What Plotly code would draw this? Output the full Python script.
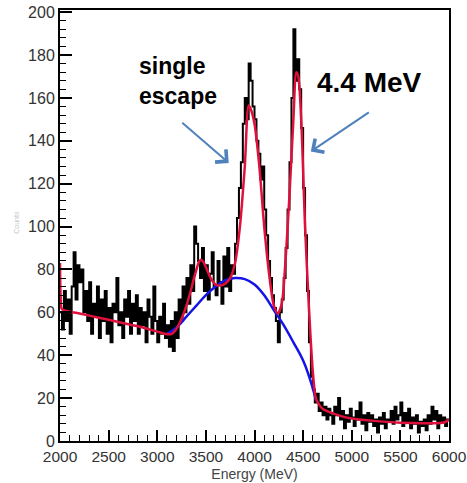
import plotly.graph_objects as go

# ---------------- data ----------------
bin_start = 2000
bin_width = 20
counts = [
    60, 52, 70, 56, 66, 50, 72, 88, 66, 82,        # 2000-2200
    74, 80, 60, 70, 56, 74, 50, 64, 58, 72,        # 2200-2400
    48, 66, 56, 70, 50, 62, 46, 64, 60, 76,        # 2400-2600
    54, 60, 48, 66, 58, 70, 50, 64, 56, 68,        # 2600-2800
    50, 62, 54, 60, 46, 66, 58, 50, 72, 56,        # 2800-3000
    46, 58, 50, 64, 48, 54, 44, 56, 42, 60,        # 3000-3200
    48, 66, 56, 72, 60, 76, 64, 82, 70, 100,       # 3200-3400
    92, 84, 76, 90, 70, 82, 66, 78, 88, 72,        # 3400-3600
    68, 84, 74, 64, 86, 72, 90, 70, 82, 78,        # 3600-3800
    92, 104, 118, 130, 148, 160, 150, 176, 168, 156,  # 3800-4000
    150, 140, 134, 122, 128, 108, 96, 84, 76, 68,  # 4000-4200
    62, 56, 46, 60, 66, 76, 90, 108, 130, 160,     # 4200-4400
    192, 168, 178, 164, 146, 118, 96, 70, 46, 30,  # 4400-4600
    24, 18, 22, 14, 18, 12, 16, 10, 15, 12,        # 4600-4800
    8, 16, 12, 20, 10, 14, 6, 12, 9, 15,           # 4800-5000
    11, 7, 14, 10, 18, 8, 12, 5, 13, 9,            # 5000-5200
    12, 7, 10, 4, 11, 8, 13, 6, 10, 9,             # 5200-5400
    14, 8, 16, 10, 12, 18, 7, 13, 9, 15,           # 5400-5600
    6, 11, 8, 12, 4, 9, 7, 10, 5, 12,              # 5600-5800
    8, 16, 10, 14, 6, 12, 9, 11, 7, 10,            # 5800-6000
]

# total fit (red)
fit_E = [2000, 2008, 2020, 2200, 2400, 2600, 2800, 3000, 3100, 3150, 3200, 3250,
         3300, 3350, 3375, 3400, 3425, 3450, 3475, 3500, 3550, 3600, 3650, 3700,
         3750, 3800, 3850, 3900, 3940, 3960, 4000, 4050, 4100, 4150, 4200, 4240,
         4280, 4320, 4360, 4400, 4430, 4450, 4480, 4520, 4560, 4600, 4630, 4650,
         4700, 4800, 4900, 5000, 5200, 5500, 5800, 5950, 6000]
fit_val = [83, 66, 61.5, 59.5, 57.5, 55.5, 53.5, 51, 49.8, 50, 52.5, 57,
           63, 71, 75.5, 79.5, 83, 84.5, 83.5, 81, 76, 73, 72.5, 73.5,
           76, 83, 100, 128, 156.5, 155, 148, 128, 100, 78, 63, 59.5,
           64, 85, 115, 150, 172, 170, 150, 100, 62, 32, 20, 18,
           15, 13, 11.5, 10.5, 9.5, 8.5, 8.3, 8.6, 10]

# background (blue)
bg_E = [3100, 3200, 3300, 3400, 3500, 3600, 3700, 3800, 3900, 4000, 4100, 4200,
        4300, 4400, 4500, 4600, 4630]
bg_val = [50, 53, 58, 63, 68, 72, 75, 76, 75.5, 73, 68, 61,
          54, 46, 37.5, 24.5, 19]

x_tick_vals = [2000, 2500, 3000, 3500, 4000, 4500, 5000, 5500, 6000]
y_tick_vals = [0, 20, 40, 60, 80, 100, 120, 140, 160, 180, 200]

# ---------------- figure ----------------
edges = [bin_start + bin_width * i for i in range(len(counts) + 1)]
steps = counts + [counts[-1]]

fig = go.Figure()
fig.add_trace(go.Scatter(x=edges, y=steps, mode="lines", line_shape="hv",
                         line=dict(color="black", width=2), showlegend=False,
                         hoverinfo="skip"))
fig.add_trace(go.Scatter(x=bg_E, y=bg_val, mode="lines", line_shape="spline",
                         line=dict(color="#1414e6", width=2.5, smoothing=1.0),
                         showlegend=False))
fig.add_trace(go.Scatter(x=fit_E, y=fit_val, mode="lines", line_shape="spline",
                         line=dict(color="#e0103c", width=2.5, smoothing=0.8),
                         showlegend=False))

font_fam = "Liberation Sans, Arial, sans-serif"
arrow_col = "#4f81bd"

fig.update_layout(
    width=467, height=483,
    margin=dict(l=60, r=18, t=10, b=42, autoexpand=False),
    paper_bgcolor="white", plot_bgcolor="white",
    font=dict(family=font_fam, color="#333"),
    xaxis=dict(range=[2000, 6000], tickvals=x_tick_vals, automargin=False,
               ticklabeloverflow="allow",
               ticks="inside", ticklen=11, tickwidth=1.5, tickcolor="black",
               minor=dict(dtick=100, ticks="inside", ticklen=6, tickwidth=1.2, tickcolor="black"),
               showline=True, linecolor="black", linewidth=2, mirror=True,
               showgrid=False, zeroline=False,
               tickfont=dict(size=15.5, color="#333"),
               title=dict(text="Energy (MeV)", font=dict(size=14, color="#444"), standoff=6)),
    yaxis=dict(range=[0, 201], tickvals=y_tick_vals, automargin=False,
               ticks="inside", ticklen=12, tickwidth=1.5, tickcolor="black",
               minor=dict(dtick=4, ticks="inside", ticklen=6, tickwidth=1.2, tickcolor="black"),
               showline=True, linecolor="black", linewidth=2, mirror=True,
               showgrid=False, zeroline=False,
               tickfont=dict(size=16, color="#333")),
)

fig.add_annotation(xref="paper", yref="paper", x=-0.128, y=0.508,
                   text="Counts", textangle=-90, showarrow=False,
                   font=dict(size=7, color="#c8c8c8"))

fig.add_annotation(x=2796, y=168, xref="x", yref="y", xanchor="left", yanchor="middle",
                   align="left", text="<b>single<br>escape</b>", showarrow=False,
                   font=dict(size=23, color="black", family=font_fam))
fig.add_annotation(x=5184, y=167, xref="x", yref="y", xanchor="center", yanchor="middle",
                   text="<b>4.4 MeV</b>", showarrow=False,
                   font=dict(size=28, color="black", family=font_fam))

fig.add_annotation(x=3735, y=129.7, ax=3242, ay=149, xref="x", yref="y",
                   axref="x", ayref="y", text="", showarrow=True,
                   arrowhead=4, arrowsize=1.6, arrowwidth=2, arrowcolor=arrow_col)
fig.add_annotation(x=4579, y=135, ax=5191, ay=153.7, xref="x", yref="y",
                   axref="x", ayref="y", text="", showarrow=True,
                   arrowhead=4, arrowsize=1.6, arrowwidth=2, arrowcolor=arrow_col)

fig.write_html("out.html")
